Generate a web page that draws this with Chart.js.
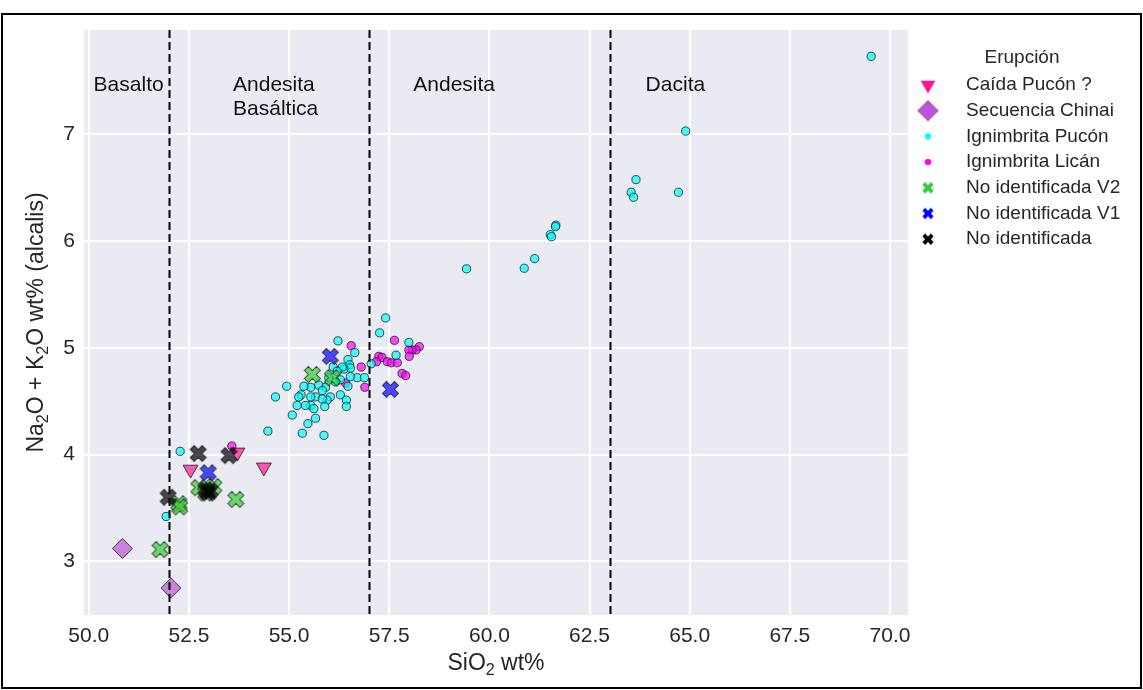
<!DOCTYPE html>
<html><head><meta charset="utf-8">
<script src="https://cdn.jsdelivr.net/npm/chart.js@4.4.1/dist/chart.umd.min.js"></script>
<style>
html,body{margin:0;padding:0;background:#fff;}
#wrap{position:relative;width:1143px;height:690px;}
#frame{position:absolute;left:1px;top:13px;width:1141px;height:676px;box-sizing:border-box;border:2px solid #000;pointer-events:none;}
</style></head><body>
<div id="wrap"><canvas id="c"></canvas><div id="frame"></div></div>
<script>
// ---------------- DATA ----------------
const seriesNames = ['Caída Pucón ?', 'Secuencia Chinai', 'Ignimbrita Pucón', 'Ignimbrita Licán', 'No identificada V2', 'No identificada V1', 'No identificada'];

const caidaX = [52.54, 53.71, 54.37];
const caidaY = [3.86, 4.02, 3.88];

const chinaiX = [50.84, 52.05];
const chinaiY = [3.12, 2.75];

const puconX = [69.53,64.90,63.66,63.54,63.60,64.72,61.66,61.65,61.52,61.55,61.13,60.87,59.43,
  57.41,57.26,56.22,56.64,57.99,57.67,57.05,56.47,56.51,56.53,56.37,56.10,56.70,56.88,56.53,56.47,56.28,
  56.16,55.91,55.74,55.54,55.83,55.66,55.54,55.30,55.24,56.03,55.95,55.83,56.28,56.43,56.43,55.89,55.54,
  55.41,55.20,55.62,54.94,54.66,55.08,55.66,55.47,54.47,55.33,55.87,56.33,56.20,55.99,55.37,52.28,51.93];
const puconY = [7.73,7.03,6.575,6.457,6.41,6.457,6.148,6.135,6.06,6.04,5.835,5.745,5.74,
  5.28,5.14,5.065,4.955,5.05,4.93,4.85,4.89,4.84,4.81,4.80,4.82,4.72,4.72,4.73,4.64,4.70,
  4.68,4.63,4.65,4.63,4.60,4.54,4.54,4.56,4.54,4.54,4.51,4.52,4.56,4.51,4.45,4.45,4.46,
  4.46,4.46,4.43,4.64,4.54,4.37,4.34,4.29,4.22,4.20,4.18,4.82,4.78,4.72,4.64,4.03,3.42];

const licanX = [56.55,57.63,58.25,58.17,58.07,57.99,58.00,57.24,57.32,57.45,57.18,57.55,57.70,57.82,57.91,56.80,56.89,56.41,53.57];
const licanY = [5.02,5.07,5.01,4.98,4.98,4.98,4.92,4.92,4.91,4.87,4.87,4.86,4.86,4.76,4.74,4.82,4.63,4.67,4.08];

const v2X = [55.58, 56.08, 52.75, 53.12, 52.92, 52.25, 52.27, 53.67, 51.78];
const v2Y = [4.75, 4.72, 3.69, 3.70, 3.64, 3.54, 3.51, 3.58, 3.11];

const v1X = [56.03, 57.53, 52.98];
const v1Y = [4.92, 4.61, 3.83];

const noidX = [52.73, 53.50, 51.98, 52.92, 53.03, 52.98];
const noidY = [4.01, 3.99, 3.60, 3.67, 3.66, 3.64];

const xTickValues = [50.0, 52.5, 55.0, 57.5, 60.0, 62.5, 65.0, 67.5, 70.0];
const yTickValues = [3, 4, 5, 6, 7];

const boundaryX = [52, 57, 63];
const regionNames = [['Basalto'], ['Andesita', 'Basáltica'], ['Andesita'], ['Dacita']];
const regionLabelX = [50.12, 53.6, 58.1, 63.9];
const regionLabelY = 7.46;

// ---------------- STYLE ----------------
const FONT = "'Liberation Sans', Arial, Helvetica, sans-serif";
const TXT = '#262626';

function xMarker(size, fill, stroke, lw) {
  const w = Math.ceil(size + 4);
  const cv = document.createElement('canvas');
  cv.width = w; cv.height = w;
  const c = cv.getContext('2d');
  c.translate(w / 2, w / 2);
  c.rotate(Math.PI / 4);
  const a = size / 2, b = size / 6;
  const pts = [[-b,-a],[b,-a],[b,-b],[a,-b],[a,b],[b,b],[b,a],[-b,a],[-b,b],[-a,b],[-a,-b],[-b,-b]];
  c.beginPath();
  pts.forEach((p, i) => i ? c.lineTo(p[0], p[1]) : c.moveTo(p[0], p[1]));
  c.closePath();
  c.fillStyle = fill; c.fill();
  if (stroke) { c.lineWidth = lw; c.strokeStyle = stroke; c.stroke(); }
  return cv;
}

const EDGE = 'rgba(20,20,20,0.75)';
const xs = (X, Y) => X.map((v, i) => ({x: v, y: Y[i]}));

const datasets = [
  {label: seriesNames[0], data: xs(caidaX, caidaY), pointStyle: 'triangle', rotation: 180, pointRadius: 8.6,
   backgroundColor: 'rgba(255,20,147,0.7)', borderColor: EDGE, borderWidth: 1, order: 5,
   legendColor: '#ff1493', legendRadius: 8},
  {label: seriesNames[1], data: xs(chinaiX, chinaiY), pointStyle: 'rectRot', pointRadius: 10,
   backgroundColor: 'rgba(186,85,211,0.7)', borderColor: EDGE, borderWidth: 1, order: 4,
   legendColor: '#ba55d3', legendRadius: 10.5},
  {label: seriesNames[2], data: xs(puconX, puconY), pointStyle: 'circle', pointRadius: 4.1,
   backgroundColor: 'rgba(0,255,255,0.7)', borderColor: EDGE, borderWidth: 1, order: 6,
   legendColor: '#00ffff', legendRadius: 3},
  {label: seriesNames[3], data: xs(licanX, licanY), pointStyle: 'circle', pointRadius: 4.1,
   backgroundColor: 'rgba(255,0,255,0.7)', borderColor: EDGE, borderWidth: 1, order: 7,
   legendColor: '#ff00ff', legendRadius: 3},
  {label: seriesNames[4], data: xs(v2X, v2Y), pointStyle: xMarker(17, 'rgba(50,205,50,0.7)', EDGE, 1), pointRadius: 8,
   backgroundColor: 'rgba(50,205,50,0.7)', borderColor: EDGE, borderWidth: 1, order: 3,
   legendColor: '#32cd32', legendImg: xMarker(12, '#32cd32')},
  {label: seriesNames[5], data: xs(v1X, v1Y), pointStyle: xMarker(17, 'rgba(0,0,255,0.7)', EDGE, 1), pointRadius: 8,
   backgroundColor: 'rgba(0,0,255,0.7)', borderColor: EDGE, borderWidth: 1, order: 2,
   legendColor: '#0000ff', legendImg: xMarker(12, '#0000ff')},
  {label: seriesNames[6], data: xs(noidX, noidY), pointStyle: xMarker(17, 'rgba(0,0,0,0.7)', EDGE, 1), pointRadius: 8,
   backgroundColor: 'rgba(0,0,0,0.7)', borderColor: EDGE, borderWidth: 1, order: 1,
   legendColor: '#000000', legendImg: xMarker(12, '#000000')}
];
datasets.forEach(d => { d.pointHoverRadius = d.pointRadius; d.showLine = false; });

// ---------------- PLUGINS ----------------
const bgPlugin = {
  id: 'bg',
  beforeDraw(chart) {
    const {ctx, chartArea: a} = chart;
    ctx.save();
    ctx.fillStyle = '#eaeaf2';
    ctx.fillRect(a.left, a.top, a.right - a.left, a.bottom - a.top);
    ctx.restore();
  }
};

const annotPlugin = {
  id: 'annot',
  afterDatasetsDraw(chart) {
    const {ctx, chartArea: a, scales: {x, y}} = chart;
    ctx.save();
    ctx.strokeStyle = '#000';
    ctx.lineWidth = 2;
    ctx.setLineDash([8, 4]);
    boundaryX.forEach(v => {
      const px = Math.round(x.getPixelForValue(v)) + 0.5;
      ctx.beginPath(); ctx.moveTo(px, a.top); ctx.lineTo(px, a.bottom); ctx.stroke();
    });
    ctx.setLineDash([]);
    ctx.fillStyle = '#111';
    ctx.font = '21px ' + FONT;
    ctx.textAlign = 'left';
    ctx.textBaseline = 'middle';
    regionNames.forEach((lines, i) => {
      const px = x.getPixelForValue(regionLabelX[i]);
      const py = y.getPixelForValue(regionLabelY);
      lines.forEach((t, j) => ctx.fillText(t, px, py + j * 24));
    });
    ctx.restore();
  }
};

function drawRich(ctx, parts, size) {
  let total = 0;
  parts.forEach(p => { ctx.font = (p[1] ? size * 0.7 : size) + 'px ' + FONT; total += ctx.measureText(p[0]).width; });
  let cx = -total / 2;
  parts.forEach(p => {
    ctx.font = (p[1] ? size * 0.7 : size) + 'px ' + FONT;
    ctx.fillText(p[0], cx, p[1] ? size * 0.28 : 0);
    cx += ctx.measureText(p[0]).width;
  });
}

const titlePlugin = {
  id: 'titles',
  afterDraw(chart) {
    const {ctx, chartArea: a} = chart;
    ctx.save();
    ctx.fillStyle = TXT;
    ctx.textAlign = 'left';
    ctx.textBaseline = 'middle';
    ctx.save();
    ctx.translate((a.left + a.right) / 2, 664);
    drawRich(ctx, [['SiO', false], ['2', true], [' wt%', false]], 23);
    ctx.restore();
    ctx.save();
    ctx.translate(37, (a.top + a.bottom) / 2);
    ctx.rotate(-Math.PI / 2);
    drawRich(ctx, [['Na', false], ['2', true], ['O + K', false], ['2', true], ['O wt% (alcalis)', false]], 23);
    ctx.restore();
    ctx.restore();
  }
};

const legendPlugin = {
  id: 'customLegend',
  afterDraw(chart) {
    const {ctx} = chart;
    ctx.save();
    ctx.fillStyle = TXT;
    ctx.font = '19px ' + FONT;
    ctx.textBaseline = 'middle';
    ctx.textAlign = 'center';
    ctx.fillText('Erupción', 1022, 58);
    ctx.textAlign = 'left';
    const mx = 928, tx = 966, y0 = 85, dy = 25.7;
    chart.data.datasets.forEach((d, i) => {
      const yy = y0 + i * dy;
      if (d.legendImg) {
        ctx.drawImage(d.legendImg, mx - d.legendImg.width / 2, yy - d.legendImg.height / 2);
      } else {
        ctx.fillStyle = d.legendColor;
        ctx.strokeStyle = d.legendColor;
        ctx.lineWidth = 0.5;
        Chart.helpers.drawPoint(ctx, {pointStyle: d.pointStyle, radius: d.legendRadius, rotation: d.rotation || 0, borderWidth: 0.5}, mx, yy);
      }
      ctx.fillStyle = TXT;
      ctx.fillText(d.label, tx, yy);
    });
    ctx.restore();
  }
};

// ---------------- CHART ----------------
new Chart(document.getElementById('c'), {
  type: 'scatter',
  data: {datasets},
  options: {
    responsive: true,
    maintainAspectRatio: false,
    animation: false,
    events: [],
    layout: {padding: {left: 0, right: 235, top: 30, bottom: 0}},
    plugins: {legend: {display: false}, tooltip: {enabled: false}},
    scales: {
      x: {
        type: 'linear', min: 49.88, max: 70.45,
        afterFit(s) { s.height = 75; },
        afterBuildTicks(s) { s.ticks = xTickValues.map(v => ({value: v})); },
        ticks: {color: TXT, font: {family: FONT, size: 21}, padding: 9, maxRotation: 0,
                callback: v => Number(v).toFixed(1)},
        grid: {color: '#ffffff', lineWidth: 2, drawTicks: false},
        border: {display: false}
      },
      y: {
        type: 'linear', min: 2.497, max: 7.977,
        afterFit(s) { s.width = 84; },
        afterBuildTicks(s) { s.ticks = yTickValues.map(v => ({value: v})); },
        ticks: {color: TXT, font: {family: FONT, size: 21}, padding: 9,
                callback: v => String(v)},
        grid: {color: '#ffffff', lineWidth: 2, drawTicks: false},
        border: {display: false}
      }
    }
  },
  plugins: [bgPlugin, annotPlugin, titlePlugin, legendPlugin]
});
</script>
</body></html>
